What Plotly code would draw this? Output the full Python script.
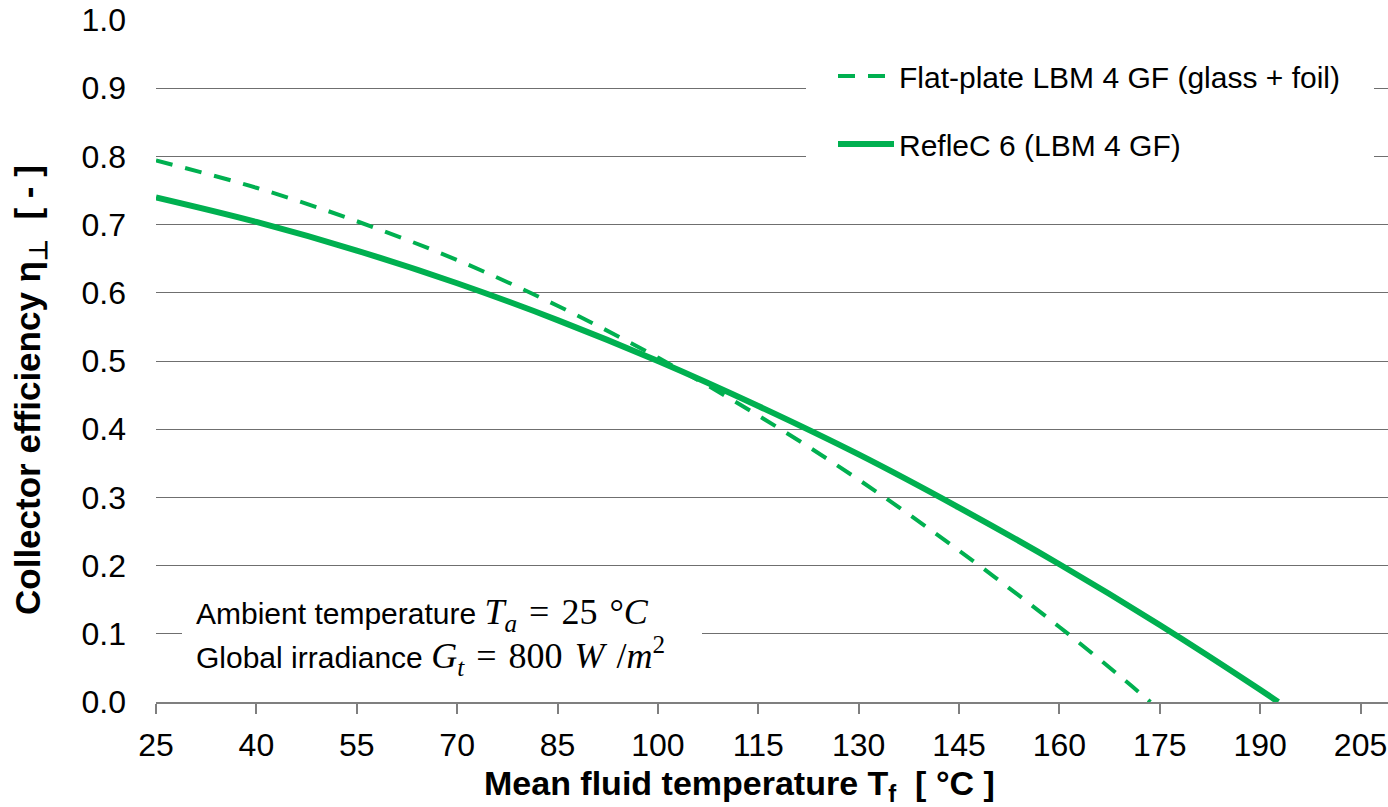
import plotly.graph_objects as go

# Mean fluid temperature [°C] and collector efficiency [-]
flat_T = [25, 40, 55, 70, 85, 100, 115, 130, 145, 160, 170, 173.6]
flat_eta = [0.794, 0.754, 0.705, 0.648, 0.581, 0.505, 0.420, 0.326, 0.222, 0.110, 0.030, 0.0]

reflec_T = [25, 40, 55, 70, 85, 100, 115, 130, 145, 160, 175, 190, 192.7]
reflec_eta = [0.740, 0.704, 0.662, 0.614, 0.560, 0.500, 0.434, 0.363, 0.285, 0.202, 0.113, 0.018, 0.0]

x_ticks = [25, 40, 55, 70, 85, 100, 115, 130, 145, 160, 175, 190, 205]
y_ticks = [0.0, 0.1, 0.2, 0.3, 0.4, 0.5, 0.6, 0.7, 0.8, 0.9, 1.0]

GREEN = "#00B050"
SANS = "Liberation Sans, Arial, sans-serif"
GRID = "#6f6f6f"

W, H = 1388, 807
ML, MR, MT, MB = 156, 0, 20, 105
PW, PH = W - ML - MR, H - MT - MB


def px_x(p):
    return (p - ML) / PW


def px_y(p):
    return (H - MB - p) / PH


fig = go.Figure()
fig.add_trace(go.Scatter(
    x=flat_T, y=flat_eta, mode="lines",
    name="Flat-plate LBM 4 GF (glass + foil)", legendgroup="a",
    line=dict(color=GREEN, width=4, dash="17px,13px", shape="spline"),
))
fig.add_trace(go.Scatter(
    x=reflec_T, y=reflec_eta, mode="lines",
    name="RefleC 6 (LBM 4 GF)", legendgroup="b",
    line=dict(color=GREEN, width=6, shape="spline"),
))

# white boxes behind the legend and the conditions note
fig.add_shape(type="rect", xref="paper", yref="paper", layer="above",
              x0=px_x(806), x1=px_x(1374), y0=px_y(200), y1=px_y(40),
              fillcolor="white", line=dict(width=0))
fig.add_shape(type="rect", xref="paper", yref="paper", layer="above",
              x0=px_x(182), x1=px_x(702), y0=px_y(690), y1=px_y(585),
              fillcolor="white", line=dict(width=0))

serif = "<span style='font-family:Liberation Serif, serif;font-size:36px'>{}</span>"
SP = "\u2004"
fig.add_annotation(
    xref="paper", yref="paper", x=px_x(194), y=px_y(614),
    xanchor="left", yanchor="middle", showarrow=False,
    text="Ambient temperature " + serif.format(
        "<i>T</i><sub><i>a</i></sub>" + SP + "=" + SP + "25" + SP + "°<i>C</i>"),
    font=dict(family=SANS, size=30, color="black"),
)
fig.add_annotation(
    xref="paper", yref="paper", x=px_x(194), y=px_y(656),
    xanchor="left", yanchor="middle", showarrow=False,
    text="Global irradiance " + serif.format(
        "<i>G</i><sub><i>t</i></sub>" + SP + "=" + SP + "800" + SP + "<i>W</i>" + SP + "/<i>m</i><sup>2</sup>"),
    font=dict(family=SANS, size=30, color="black"),
)

# axis titles
fig.add_annotation(
    xref="paper", yref="paper", x=px_x(739), y=px_y(786),
    xanchor="center", yanchor="middle", showarrow=False,
    text="<b>Mean fluid temperature T<sub>f</sub>\u00a0\u00a0[ °C ]</b>",
    font=dict(family=SANS, size=34, color="black"),
)
fig.add_annotation(
    xref="paper", yref="paper", x=px_x(30), y=px_y(390),
    xanchor="center", yanchor="middle", showarrow=False, textangle=-90,
    text="<b>Collector efficiency η<sub>⊥</sub>\u00a0\u00a0[ - ]</b>",
    font=dict(family=SANS, size=35, color="black"),
)

fig.update_layout(
    width=W, height=H,
    margin=dict(l=ML, r=MR, t=MT, b=MB),
    paper_bgcolor="white", plot_bgcolor="white",
    font=dict(family=SANS, color="black"),
    showlegend=True,
    legend=dict(
        x=px_x(833), y=px_y(50), xanchor="left", yanchor="top",
        bgcolor="rgba(0,0,0,0)", borderwidth=0,
        font=dict(family=SANS, size=30, color="black"),
        itemwidth=56, tracegroupgap=26,
    ),
    xaxis=dict(
        range=[25, 209.1], tickmode="array", tickvals=x_ticks,
        ticktext=[str(v) for v in x_ticks],
        showgrid=False, zeroline=False,
        showline=True, linecolor="#7f7f7f", linewidth=1.5,
        ticks="outside", ticklen=10, tickcolor="#7f7f7f", tickwidth=1.5,
        tickfont=dict(family=SANS, size=32, color="black"),
        ticklabelstandoff=4,
    ),
    yaxis=dict(
        range=[0, 1], tickmode="array", tickvals=y_ticks,
        ticktext=[f"{v:.1f}" for v in y_ticks],
        showgrid=True, gridcolor=GRID, gridwidth=1,
        zeroline=False, showline=False, ticks="",
        tickfont=dict(family=SANS, size=32, color="black"),
        ticklabelstandoff=29,
    ),
)

fig.write_html("out.html")
